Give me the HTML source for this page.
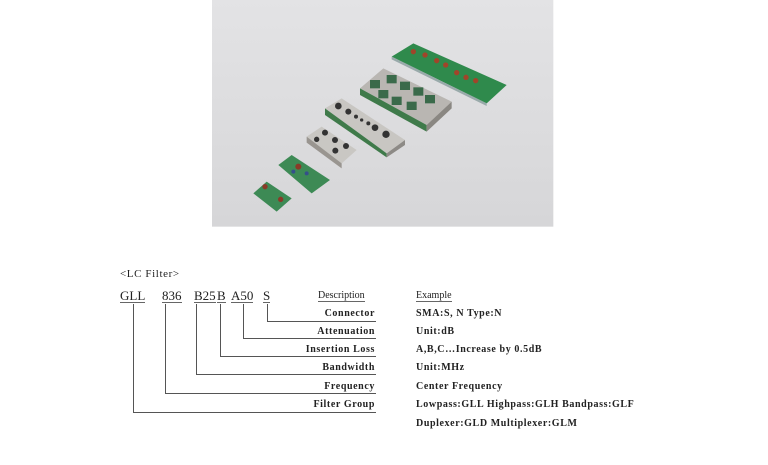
<!DOCTYPE html>
<html><head><meta charset="utf-8"><style>
body{margin:0;width:768px;height:465px;background:#fff;position:relative;overflow:hidden;font-family:"Liberation Serif",serif;color:#222}
.t{position:absolute;white-space:nowrap;font-size:10px;font-weight:bold;letter-spacing:0.6px}
.r{position:absolute;white-space:nowrap;font-size:10px;font-weight:bold;letter-spacing:0.6px;text-align:right;right:393px}
.code{position:absolute;font-size:13px;top:289px;letter-spacing:0;line-height:13px}
.u{border-bottom:1px solid #666}
</style></head><body>
<svg style="position:absolute;left:210px;top:0" width="346" height="232" viewBox="0 0 1038 696">
<defs><linearGradient id="bg" x1="0" y1="0" x2="0" y2="1"><stop offset="0" stop-color="#e3e3e5"/><stop offset="1" stop-color="#d6d6d8"/></linearGradient></defs>
<rect x="6" y="0" width="1024" height="680" fill="url(#bg)"/>
<polygon points="545,170 610,130 890,255 830,310" fill="#2f8a4c"/>
<polygon points="545,170 830,310 830,318 545,178" fill="#9aa"/>
<g fill="#a0452a"><circle cx="610" cy="155" r="8"/><circle cx="645" cy="165" r="8"/><circle cx="680" cy="182" r="8"/><circle cx="707" cy="195" r="8"/><circle cx="740" cy="218" r="8"/><circle cx="768" cy="232" r="8"/><circle cx="797" cy="242" r="8"/></g>
<polygon points="450,265 520,205 725,305 650,375" fill="#b9b6b2"/>
<polygon points="450,265 650,375 650,395 450,285" fill="#3f7a4a"/>
<polygon points="650,375 725,305 725,325 650,395" fill="#8a8782"/>
<g fill="#3a6a4a"><rect x="480" y="240" width="30" height="25"/><rect x="530" y="225" width="30" height="25"/><rect x="570" y="245" width="30" height="25"/><rect x="610" y="262" width="30" height="25"/><rect x="505" y="270" width="30" height="25"/><rect x="545" y="290" width="30" height="25"/><rect x="590" y="305" width="30" height="25"/><rect x="645" y="285" width="30" height="25"/></g>
<polygon points="345,325 395,295 585,420 530,460" fill="#c8c6c2"/>
<polygon points="345,325 530,460 530,472 345,345" fill="#3f7a4a"/>
<polygon points="530,460 585,420 585,435 530,472" fill="#8d8a86"/>
<g fill="#333"><circle cx="385" cy="318" r="10"/><circle cx="415" cy="335" r="9"/><circle cx="438" cy="350" r="6"/><circle cx="455" cy="360" r="5"/><circle cx="475" cy="370" r="6"/><circle cx="495" cy="383" r="10"/><circle cx="528" cy="403" r="11"/></g>
<polygon points="290,410 335,380 440,450 395,490" fill="#c9c7c3"/>
<polygon points="290,410 395,490 395,505 290,428" fill="#999590"/>
<g fill="#333"><circle cx="345" cy="398" r="9"/><circle cx="320" cy="418" r="8"/><circle cx="375" cy="420" r="9"/><circle cx="408" cy="438" r="9"/><circle cx="376" cy="452" r="9"/></g>
<polygon points="205,495 245,465 360,540 305,580" fill="#3d8a55"/>
<circle cx="265" cy="500" r="9" fill="#8a3a28"/><circle cx="290" cy="520" r="6" fill="#35508a"/><circle cx="250" cy="515" r="6" fill="#35508a"/>
<polygon points="130,580 170,545 245,595 200,635" fill="#3d8a55"/>
<circle cx="165" cy="560" r="8" fill="#8a3a28"/><circle cx="212" cy="598" r="8" fill="#8a3a28"/>
</svg>

<div class="t" style="left:120px;top:268px;font-weight:normal;font-size:11px">&lt;LC Filter&gt;</div>
<div class="code u" style="left:120px">GLL</div>
<div class="code u" style="left:162px">836</div>
<div class="code u" style="left:194px">B25</div>
<div class="code u" style="left:217px">B</div>
<div class="code u" style="left:231px">A50</div>
<div class="code u" style="left:263px">S</div>
<div class="t u" style="left:318px;top:290px;font-weight:normal;letter-spacing:0">Description</div>

<svg style="position:absolute;left:0;top:0" width="768" height="465">
<g stroke="#555" stroke-width="1" fill="none">
<polyline points="267.5,304 267.5,321.5 376,321.5"/>
<polyline points="243.5,304 243.5,338.5 376,338.5"/>
<polyline points="220.5,304 220.5,356.5 376,356.5"/>
<polyline points="196.5,304 196.5,374.5 376,374.5"/>
<polyline points="165.5,304 165.5,393.5 376,393.5"/>
<polyline points="133.5,304 133.5,412.5 376,412.5"/>
</g></svg>

<div class="r" style="top:308px">Connector</div>
<div class="r" style="top:326px">Attenuation</div>
<div class="r" style="top:344px">Insertion Loss</div>
<div class="r" style="top:362px">Bandwidth</div>
<div class="r" style="top:381px">Frequency</div>
<div class="r" style="top:399px">Filter Group</div>

<div class="t u" style="left:416px;top:290px;font-weight:normal;letter-spacing:0">Example</div>
<div class="t" style="left:416px;top:308px">SMA:S, N Type:N</div>
<div class="t" style="left:416px;top:326px">Unit:dB</div>
<div class="t" style="left:416px;top:344px">A,B,C…Increase by 0.5dB</div>
<div class="t" style="left:416px;top:362px">Unit:MHz</div>
<div class="t" style="left:416px;top:381px">Center Frequency</div>
<div class="t" style="left:416px;top:399px">Lowpass:GLL Highpass:GLH Bandpass:GLF</div>
<div class="t" style="left:416px;top:418px">Duplexer:GLD Multiplexer:GLM</div>
</body></html>
